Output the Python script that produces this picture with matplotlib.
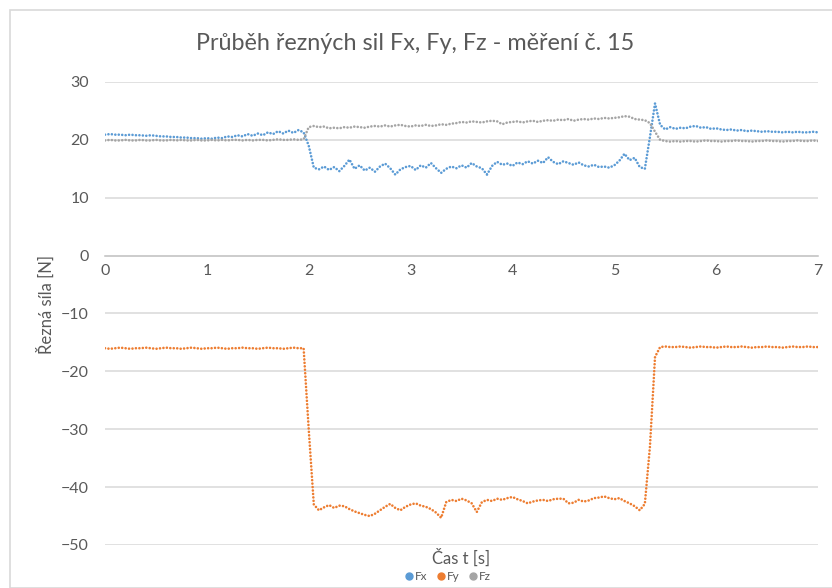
import numpy as np
import matplotlib.pyplot as plt
from matplotlib.lines import Line2D
from matplotlib.patches import Rectangle

plt.rcParams['font.family'] = ['Lato', 'DejaVu Sans']

# casove kroky mereni (0 .. 7 s, krok 0.05 s)
t = np.round(np.arange(141) * 0.05, 2)

fx = [20.9, 21.0, 20.9, 20.9, 20.8, 20.9, 20.8, 20.8, 20.7, 20.8,
      20.7, 20.6, 20.6, 20.5, 20.5, 20.4, 20.4, 20.3, 20.3, 20.2,
      20.3, 20.2, 20.4, 20.3, 20.6, 20.5, 20.8, 20.6, 21.0, 20.7,
      21.1, 20.8, 21.3, 21.0, 21.5, 21.1, 21.6, 21.2, 21.7, 21.3,
      19.0, 15.2, 14.9, 15.4, 14.8, 15.3, 14.6, 15.5, 16.6, 15.0,
      15.6, 14.7, 15.2, 14.5, 15.4, 15.9, 15.1, 14.0, 14.9, 15.3,
      15.5, 14.8, 15.6, 15.2, 16.0, 15.1, 14.3, 15.0, 15.4, 15.1,
      15.6, 15.2, 16.0, 15.4, 15.1, 14.0, 15.5, 16.2, 15.7, 15.9,
      15.5, 16.1, 15.8, 16.3, 15.9, 16.4, 16.0, 17.0, 16.2, 15.8,
      16.3, 16.0, 15.7, 16.1, 15.6, 15.4, 15.7, 15.3, 15.4, 15.2,
      15.6, 16.4, 17.6, 16.5, 16.9, 15.3, 15.0, 20.5, 26.3, 22.6,
      21.8, 22.2, 21.9, 22.1, 22.0, 22.3, 22.4, 22.1, 22.2, 21.9,
      22.0, 21.8, 21.7, 21.8, 21.6, 21.7, 21.5, 21.6, 21.5, 21.4,
      21.5, 21.4, 21.4, 21.3, 21.4, 21.3, 21.4, 21.3, 21.3, 21.4,
      21.3]

fy = [-16.0, -16.1, -16.0, -15.9, -16.0, -16.1, -16.0, -16.0, -15.9, -16.0,
      -16.1, -16.0, -15.9, -16.0, -16.0, -16.1, -16.0, -15.9, -16.0, -16.1,
      -16.0, -16.0, -15.9, -16.0, -16.1, -16.0, -16.0, -15.9, -16.0, -16.0,
      -16.1, -16.0, -15.9, -16.0, -16.0, -16.1, -16.0, -15.9, -16.0, -16.0,
      -30.0, -43.0, -44.0, -43.5, -43.1, -43.6, -43.2, -43.3, -43.8, -44.2,
      -44.5, -44.8, -45.0, -44.6, -44.0, -43.4, -42.9, -43.6, -44.0, -43.4,
      -43.0, -42.8, -43.2, -43.4, -43.8, -44.4, -45.3, -42.6, -42.2, -42.4,
      -42.0, -42.3, -42.8, -44.3, -42.6, -42.2, -42.4, -42.0, -42.2, -41.9,
      -41.7, -42.1, -42.4, -42.8, -42.5, -42.3, -42.2, -42.4, -42.1, -42.0,
      -42.0, -42.8, -42.7, -42.2, -42.5, -42.3, -41.9, -41.8, -41.6, -41.9,
      -42.1, -41.9, -42.4, -42.8, -43.3, -44.0, -42.9, -33.0, -17.5, -15.8,
      -15.7, -15.8, -15.8, -15.7, -15.8, -15.9, -15.8, -15.7, -15.8, -15.8,
      -15.9, -15.8, -15.7, -15.8, -15.8, -15.7, -15.8, -15.9, -15.8, -15.8,
      -15.7, -15.8, -15.8, -15.9, -15.8, -15.7, -15.8, -15.8, -15.7, -15.8,
      -15.8]

fz = [19.9, 20.0, 19.9, 19.9, 20.0, 19.9, 19.9, 20.0, 19.9, 19.9,
      20.0, 19.9, 19.9, 20.0, 19.9, 20.0, 19.9, 19.9, 20.0, 19.9,
      19.9, 20.0, 19.9, 20.0, 19.9, 20.0, 20.0, 19.9, 20.0, 19.9,
      20.0, 20.0, 19.9, 20.0, 20.1, 20.0, 20.0, 20.1, 20.0, 20.1,
      22.2, 22.4, 22.2, 22.3, 22.0, 22.1, 22.0, 22.2, 22.1, 22.3,
      22.2, 22.1, 22.3, 22.4, 22.3, 22.5, 22.3, 22.5, 22.6, 22.4,
      22.3, 22.5, 22.4, 22.6, 22.4, 22.5, 22.7, 22.6, 22.8, 22.9,
      23.1, 23.0, 23.2, 23.1, 23.0, 23.2, 23.3, 23.2, 22.7, 23.0,
      23.1, 23.2, 23.0, 23.2, 23.3, 23.1, 23.3, 23.4, 23.3, 23.5,
      23.4, 23.6, 23.3, 23.5, 23.6, 23.5, 23.7, 23.6, 23.8, 23.7,
      23.8, 23.9, 24.1, 24.0, 23.6, 23.5, 23.4, 22.9, 21.4, 20.0,
      19.8, 19.7, 19.8, 19.7, 19.8, 19.8, 19.7, 19.8, 19.9, 19.8,
      19.8, 19.7, 19.8, 19.8, 19.9, 19.8, 19.8, 19.7, 19.8, 19.8,
      19.9, 19.8, 19.8, 19.7, 19.8, 19.8, 19.9, 19.8, 19.8, 19.9,
      19.8]

series = [('Fx', fx, '#5B9BD5'), ('Fy', fy, '#ED7D31'), ('Fz', fz, '#A5A5A5')]
yticks = [-50, -40, -30, -20, -10, 0, 10, 20, 30]
txt = '#595959'

fig = plt.figure(figsize=(8.32, 5.88), dpi=100)
ax = fig.add_axes([105 / 832, 1 - 545 / 588, 713 / 832, 463 / 588])

# ramecek grafu
fig.patches.append(Rectangle((10 / 832, 0), 1, 1 - 10 / 588, transform=fig.transFigure,
                             fill=False, edgecolor='#D9D9D9', lw=1.2))

for y in yticks:
    if y != 0:
        ax.axhline(y, color='#D9D9D9', lw=1.1, zorder=0)

for name, vals, col in series:
    ax.plot(t, vals, color=col, lw=1.9, linestyle=(0, (0.01, 1.3)),
            dash_capstyle='round', zorder=3)

ax.set_xlim(0, 7)
ax.set_ylim(-50, 30)
ax.set_yticks(yticks)
ax.set_xticks(range(8))
for s in ['top', 'right', 'left']:
    ax.spines[s].set_visible(False)
ax.spines['bottom'].set_position(('data', 0))
ax.spines['bottom'].set_color('#BFBFBF')
ax.spines['bottom'].set_linewidth(1.1)
ax.tick_params(axis='y', length=0, pad=11.5, labelsize=11.5, labelcolor=txt)
ax.tick_params(axis='x', length=0, pad=6, labelsize=11.5, labelcolor=txt)

fig.text(415 / 832, 1 - 44 / 588, 'Průběh řezných sil Fx, Fy, Fz - měření č. 15',
         ha='center', va='center', fontsize=16.8, color=txt)
fig.text(46 / 832, 1 - 305 / 588, 'Řezná síla [N]', rotation=90,
         ha='center', va='center', fontsize=12, color=txt)
fig.text(461 / 832, 1 - 558 / 588, 'Čas t [s]', ha='center', va='center',
         fontsize=12, color=txt)

handles = [Line2D([], [], ls='none', marker='o', ms=5, color=c, label=n)
           for n, v, c in series]
fig.legend(handles=handles, loc='center', bbox_to_anchor=(447 / 832, 1 - 577 / 588),
           ncol=3, frameon=False, fontsize=8.5, handletextpad=0.05,
           columnspacing=0.6, handlelength=1.0, labelcolor=txt)

fig.savefig('out.png', dpi=100)
